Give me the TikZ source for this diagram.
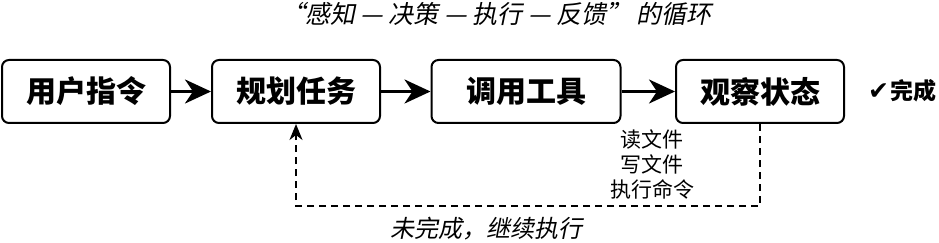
\documentclass[tikz,border=0pt]{standalone}
\usepackage{fontspec}
\usetikzlibrary{arrows.meta}
\newfontfamily\cjk{Noto Sans CJK SC}
\newfontfamily\cjkit[FakeSlant=0.2]{Noto Sans CJK SC}
\newfontfamily\dejavu{DejaVu Sans}
\begin{document}
\begin{tikzpicture}[x=1pt,y=-1pt,
  stepbox/.style={draw=black,line width=2pt,rounded corners=7pt,minimum height=63pt,inner sep=0pt,font=\cjk\bfseries\fontsize{30}{33}\selectfont},
  flow/.style={line width=3pt,-{Stealth[length=26pt,width=24pt,inset=8pt]}},
  loop/.style={line width=2pt,dash pattern=on 7pt off 5pt,-{Stealth[length=16pt,width=13pt,inset=5pt]}},
  lbl/.style={font=\cjk\fontsize{21}{25}\selectfont,align=center,inner sep=0pt}]
\useasboundingbox (0,0) rectangle (939,243);
\node[font=\cjkit\fontsize{25}{27}\selectfont,inner sep=0pt] (title) at (496,14) {“感知 — 决策 — 执行 — 反馈” 的循环};
\node[stepbox,minimum width=168pt] (a) at (86,91.5) {用户指令};
\node[stepbox,minimum width=168pt] (b) at (296,91.5) {规划任务};
\node[stepbox,minimum width=189pt] (c) at (526,91.5) {调用工具};
\node[stepbox,minimum width=168pt] (d) at (760,91.5) {观察状态};
\node[inner sep=0pt,anchor=west] (done) at (868,91) {{\dejavu\fontsize{25}{26}\selectfont ✔}\,{\cjk\bfseries\fontsize{23}{25}\selectfont 完成}};
\draw[flow] (a.east) -- (b.west);
\draw[flow] (b.east) -- (c.west);
\draw[flow] (c.east) -- (d.west);
\node[lbl] (tools) at (652,164) {读文件\\写文件\\执行命令};
\coordinate (r) at (760,206);
\coordinate (l) at (296,206);
\draw[loop] (d.south) -- (r) -- (l) -- (b.south);
\node[font=\cjkit\fontsize{24}{26}\selectfont,inner sep=0pt] (back) at (486,229) {未完成，继续执行};
\end{tikzpicture}
\end{document}
